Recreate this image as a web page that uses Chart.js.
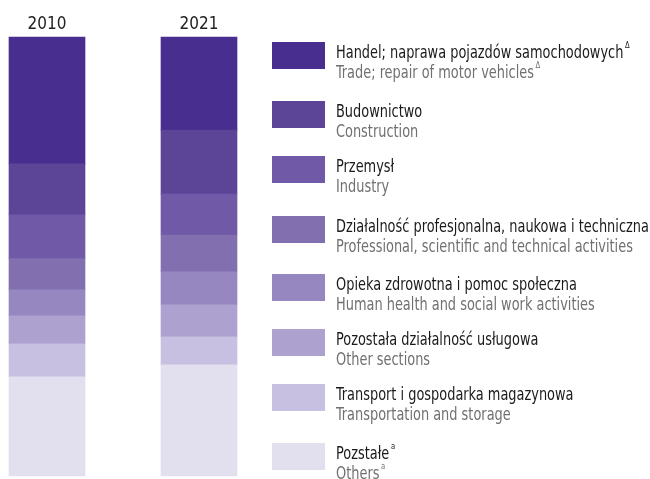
<!DOCTYPE html>
<html>
<head>
<meta charset="utf-8">
<script src="https://cdn.jsdelivr.net/npm/chart.js@4"></script>
<style>
  body { margin: 0; background: #fff; }
  #wrap { width: 650px; height: 479px; position: relative; }
</style>
</head>
<body>
<div id="wrap"><canvas id="chart"></canvas></div>
<script>
const years = ['2010', '2021'];
const sectionsPl = [
  'Handel; naprawa pojazdów samochodowych',
  'Budownictwo',
  'Przemysł',
  'Działalność profesjonalna, naukowa i techniczna',
  'Opieka zdrowotna i pomoc społeczna',
  'Pozostała działalność usługowa',
  'Transport i gospodarka magazynowa',
  'Pozstałe'
];
const sectionsEn = [
  'Trade; repair of motor vehicles',
  'Construction',
  'Industry',
  'Professional, scientific and technical activities',
  'Human health and social work activities',
  'Other sections',
  'Transportation and storage',
  'Others'
];
const marks = ['Δ', '', '', '', '', '', '', 'a'];
const share2010 = [28.9, 11.6, 10.0, 7.1, 5.9, 6.4, 7.5, 22.6];
const share2021 = [21.2, 14.6, 9.3, 8.4, 7.5, 7.3, 6.4, 25.3];
const colors = ['#482e8e', '#5c4597', '#7059a6', '#826fb0', '#9787c0', '#ada1cf', '#c8c0e0', '#e2dfef'];

const FONT = '"DejaVu Sans Condensed", "Liberation Sans Narrow", sans-serif';

// stack from the bottom: last section first
const datasets = [];
for (let i = sectionsPl.length - 1; i >= 0; i--) {
  datasets.push({
    label: sectionsPl[i],
    data: [share2010[i], share2021[i]],
    backgroundColor: colors[i],
    borderWidth: 0,
    barThickness: 76,
    clip: false
  });
}

// narrow the legend text to look like the condensed face of the original
const SQUEEZE = 0.845;

const sideLegend = {
  id: 'sideLegend',
  afterDraw(chart) {
    const ctx = chart.ctx;
    const boxX = 272, textX = 336;
    const rowTops = [42, 101, 156, 216, 274, 329, 384, 443];
    ctx.save();
    ctx.textBaseline = 'alphabetic';
    ctx.textAlign = 'left';
    for (let i = 0; i < sectionsPl.length; i++) {
      const top = rowTops[i];
      ctx.fillStyle = colors[i];
      ctx.fillRect(boxX, top, 53, 27);

      ctx.save();
      ctx.translate(textX, 0);
      ctx.scale(SQUEEZE, 1);
      ctx.font = '17px ' + FONT;
      ctx.fillStyle = '#1a1a1a';
      ctx.fillText(sectionsPl[i], 0, top + 16);
      const wPl = ctx.measureText(sectionsPl[i]).width;

      ctx.fillStyle = '#707070';
      ctx.fillText(sectionsEn[i], 0, top + 36);
      const wEn = ctx.measureText(sectionsEn[i]).width;

      if (marks[i]) {
        ctx.font = '9px ' + FONT;
        ctx.fillStyle = '#1a1a1a';
        ctx.fillText(marks[i], wPl + 2, top + 6);
        ctx.fillStyle = '#707070';
        ctx.fillText(marks[i], wEn + 2, top + 26);
      }
      ctx.restore();
    }
    ctx.restore();
  }
};

new Chart(document.getElementById('chart'), {
  type: 'bar',
  data: { labels: years, datasets: datasets },
  options: {
    responsive: true,
    maintainAspectRatio: false,
    animation: false,
    layout: { padding: { left: 47, right: 451, top: 12.6, bottom: 3 } },
    plugins: {
      legend: { display: false },
      tooltip: { enabled: false }
    },
    scales: {
      x: {
        position: 'top',
        stacked: true,
        offset: false,
        grid: { display: false, drawTicks: false },
        border: { display: false },
        ticks: {
          padding: 2,
          color: '#222',
          font: { family: FONT, size: 17 },
          maxRotation: 0,
          autoSkip: false
        }
      },
      y: {
        display: false,
        stacked: true,
        min: 0,
        max: 100
      }
    }
  },
  plugins: [sideLegend]
});
</script>
</body>
</html>
